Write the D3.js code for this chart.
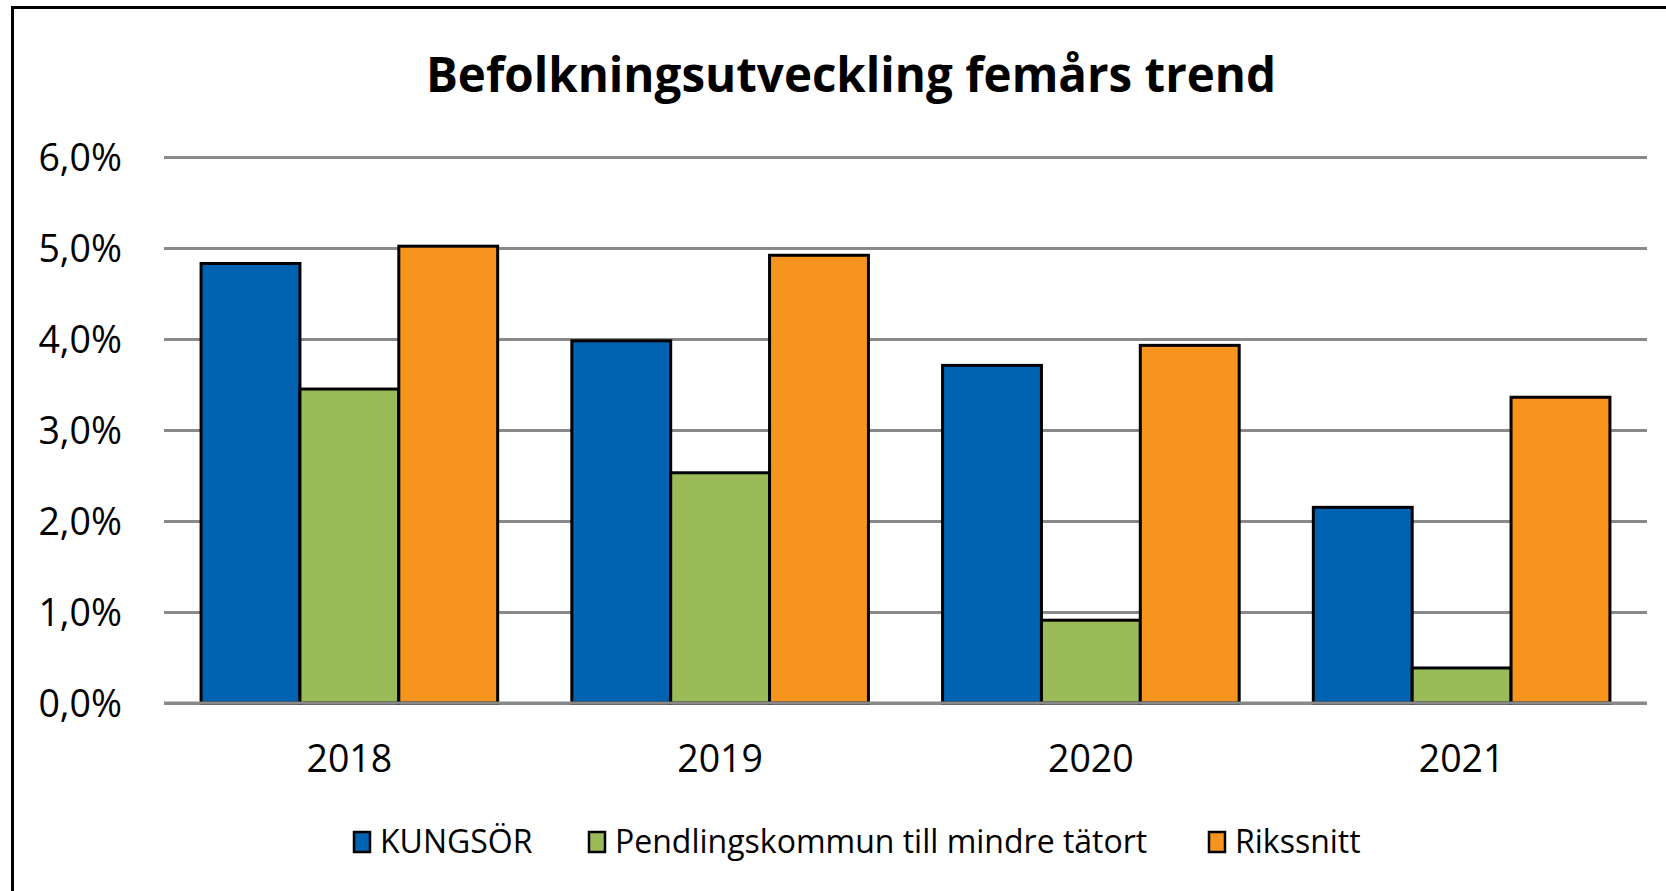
<!DOCTYPE html>
<html>
<head>
<meta charset="utf-8">
<script src="https://cdn.jsdelivr.net/npm/d3@7"></script>
<style>
  body { margin: 0; background: #fff; }
  text { font-family: "Open Sans", sans-serif; fill: #000; }
</style>
</head>
<body>
<div class="chart"></div>
<script>
var svgWidth = 1666;
var svgHeight = 891;

// Data
var years = ["2018", "2019", "2020", "2021"];
var seriesNames = ["KUNGSÖR", "Pendlingskommun till mindre tätort", "Rikssnitt"];
var kungsor = [4.83, 3.98, 3.71, 2.15];
var pendling = [3.45, 2.53, 0.91, 0.385];
var rikssnitt = [5.02, 4.92, 3.93, 3.36];
var yTicks = [0, 1, 2, 3, 4, 5, 6];
var colors = ["#0063B1", "#9BBB59", "#F7941D"];

var allSeries = [kungsor, pendling, rikssnitt];

var margin = { top: 157, right: 19, bottom: 188, left: 164 };
var width = svgWidth - margin.left - margin.right;
var height = svgHeight - margin.top - margin.bottom;

var svg = d3.select(".chart")
  .append("svg")
  .attr("width", svgWidth)
  .attr("height", svgHeight);

// outer frame (only top and left edges are in view)
svg.append("rect")
  .attr("x", 12.5)
  .attr("y", 7.5)
  .attr("width", svgWidth + 20)
  .attr("height", svgHeight + 20)
  .attr("fill", "none")
  .attr("stroke", "#000")
  .attr("stroke-width", 3);

// Title
svg.append("text")
  .attr("x", 851)
  .attr("y", 92)
  .attr("text-anchor", "middle")
  .style("font-size", "47.5px")
  .style("font-weight", "bold")
  .text("Befolkningsutveckling femårs trend");

var chartGroup = svg.append("g")
  .attr("transform", `translate(${margin.left}, ${margin.top})`);

// Scales
var x0 = d3.scaleBand()
  .domain(years)
  .range([0, width])
  .paddingInner(0)
  .paddingOuter(0);

// 75% gap width: group padding of 0.375 bar widths each side
var barW = x0.bandwidth() / (3 + 0.75);
var groupOffset = barW * 0.375;

var y = d3.scaleLinear()
  .domain([0, 6])
  .range([height, 0]);

// Gridlines
var leftAxis = d3.axisLeft(y)
  .tickValues(yTicks)
  .tickSize(-width)
  .tickPadding(42)
  .tickFormat(d => d3.format(".1f")(d).replace(".", ",") + "%");

var yAxisG = chartGroup.append("g").call(leftAxis);
yAxisG.select(".domain").remove();
yAxisG.selectAll(".tick line")
  .attr("stroke", "#898989")
  .attr("stroke-width", 3);
yAxisG.selectAll(".tick text")
  .style("font-size", "37.5px")
  .attr("dy", "0.36em");

// Bars
var barData = [];
years.forEach(function(yr, i) {
  allSeries.forEach(function(s, j) {
    barData.push({ year: yr, idx: j, value: s[i] });
  });
});

chartGroup.selectAll("rect.bar")
  .data(barData)
  .enter()
  .append("rect")
  .attr("class", "bar")
  .attr("x", d => x0(d.year) + groupOffset + d.idx * barW)
  .attr("y", d => y(d.value))
  .attr("width", barW)
  .attr("height", d => height - y(d.value))
  .attr("fill", d => colors[d.idx])
  .attr("stroke", "#000")
  .attr("stroke-width", 3);

// zero line on top
chartGroup.append("line")
  .attr("x1", 0)
  .attr("x2", width)
  .attr("y1", y(0))
  .attr("y2", y(0))
  .attr("stroke", "#898989")
  .attr("stroke-width", 3);

// X axis labels
var bottomAxis = d3.axisBottom(x0).tickSize(0).tickPadding(42);
var xAxisG = chartGroup.append("g")
  .attr("transform", `translate(0, ${height})`)
  .call(bottomAxis);
xAxisG.select(".domain").remove();
xAxisG.selectAll(".tick text")
  .style("font-size", "37.5px");

// Legend
var legendX = [353, 588, 1208];
var legend = svg.append("g");
seriesNames.forEach(function(name, i) {
  legend.append("rect")
    .attr("x", legendX[i] + 1)
    .attr("y", 832)
    .attr("width", 16)
    .attr("height", 20)
    .attr("fill", colors[i])
    .attr("stroke", "#000")
    .attr("stroke-width", 2.5);
  legend.append("text")
    .attr("x", legendX[i] + 27)
    .attr("y", 853)
    .style("font-size", "32px")
    .text(name);
});
</script>
</body>
</html>
